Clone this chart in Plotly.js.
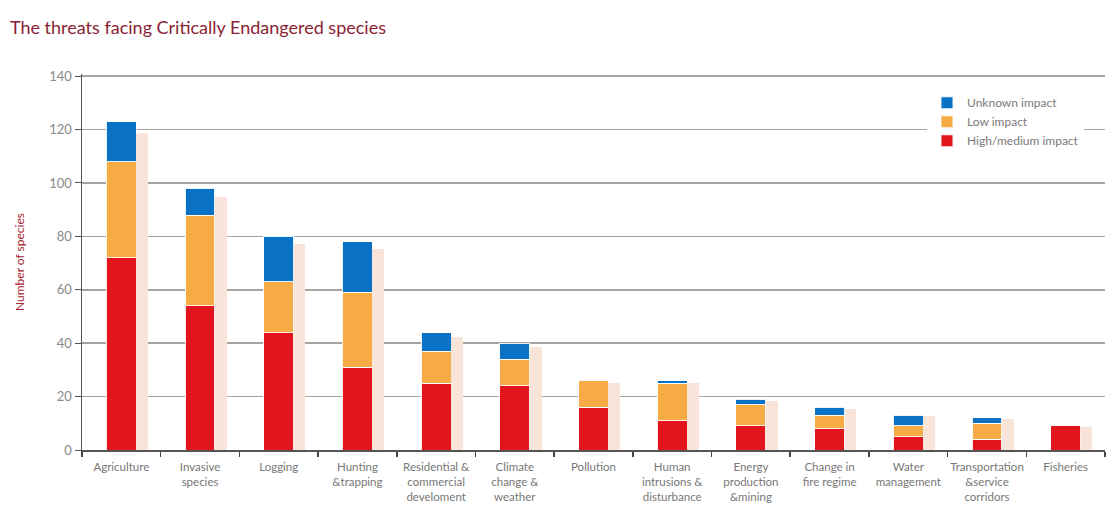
<!DOCTYPE html>
<html>
<head>
<meta charset="utf-8">
<script src="https://cdn.plot.ly/plotly-3.0.1.min.js"></script>
<style>html,body{margin:0;padding:0;background:#fff;}#chart{width:1109px;height:525px;}</style>
</head>
<body>
<div id="chart"></div>
<script>
const categories = [
  "Agriculture", "Invasive<br>species", "Logging", "Hunting<br>&trapping",
  "Residential &<br>commercial<br>develoment", "Climate<br>change &<br>weather", "Pollution",
  "Human<br>intrusions &<br>disturbance", "Energy<br>production<br>&mining", "Change in<br>fire regime",
  "Water<br>management", "Transportation<br>&service<br>corridors", "Fisheries"
];
const highMedium = [72, 54, 44, 31, 25, 24, 16, 11, 9, 8, 5, 4, 9];
const lowImpact  = [36, 34, 19, 28, 12, 10, 10, 14, 8, 5, 4, 6, 0];
const unknown    = [15, 10, 17, 19,  7,  6,  0,  1, 2, 3, 4, 2, 0];
const yTicks = [0, 20, 40, 60, 80, 100, 120, 140];
const totals = highMedium.map((v, i) => v + lowImpact[i] + unknown[i]);

const barW = 0.38;
const sep = {color: 'rgba(255,255,255,0.9)', width: 1};

const traces = [
  {type: 'bar', name: 'High/medium impact', x: categories, y: highMedium, width: barW,
   marker: {color: '#e2141c', line: sep}, xaxis: 'x', yaxis: 'y'},
  {type: 'bar', name: 'Low impact', x: categories, y: lowImpact, width: barW,
   marker: {color: '#f7ab45', line: sep}, xaxis: 'x', yaxis: 'y'},
  {type: 'bar', name: 'Unknown impact', x: categories, y: unknown, width: barW,
   marker: {color: '#0a72c4', line: sep}, xaxis: 'x', yaxis: 'y'},
  {type: 'bar', name: 'shadow', x: categories, y: totals, width: 0.15, offset: barW / 2,
   marker: {color: '#f8e4d9'}, xaxis: 'x', yaxis: 'y2', showlegend: false, hoverinfo: 'skip'}
];

const layout = {
  width: 1109, height: 525,
  margin: {l: 82, r: 4, t: 74, b: 75},
  paper_bgcolor: '#ffffff', plot_bgcolor: '#ffffff',
  barmode: 'stack',
  showlegend: true,
  font: {family: 'Lato, "Open Sans", sans-serif', color: '#7a7a7a'},
  title: {
    text: 'The threats facing Critically Endangered species',
    font: {family: 'Lato, sans-serif', size: 18, color: '#8a1f35'},
    xref: 'container', yref: 'container', x: 0.009, xanchor: 'left', y: 0.948, yanchor: 'middle'
  },
  xaxis: {
    type: 'category', tickson: 'boundaries', ticks: 'outside', ticklen: 5, tickcolor: '#444', tickwidth: 1.5,
    showline: true, linecolor: '#555', linewidth: 2, showgrid: false, tickangle: 0, ticklabelstandoff: 5,
    tickfont: {family: 'Lato, sans-serif', size: 11.5, color: '#777'},
    range: [-0.5, 12.5], fixedrange: true
  },
  yaxis: {
    range: [0, 140.8], tickvals: yTicks, showgrid: true, gridcolor: '#a9a29d', gridwidth: 1.5,
    showline: true, linecolor: '#555', linewidth: 1.5, ticks: 'outside', ticklen: 6, tickcolor: '#555',
    zeroline: false,
    tickfont: {family: 'Lato, sans-serif', size: 13, color: '#8a8a8a'},
    title: {text: 'Number of species', standoff: 22, font: {family: 'Lato, sans-serif', size: 12, color: '#a3222c'}}
  },
  yaxis2: {range: [0, 145.8], overlaying: 'y', visible: false, showgrid: false},
  legend: {
    x: 0.826, xanchor: 'left', y: 0.962, yanchor: 'top', traceorder: 'reversed',
    bgcolor: '#ffffff', font: {family: 'Lato, sans-serif', size: 12, color: '#7a7a7a'},
    tracegroupgap: 0
  }
};

Plotly.newPlot('chart', traces, layout, {displayModeBar: false, staticPlot: true});
</script>
</body>
</html>
